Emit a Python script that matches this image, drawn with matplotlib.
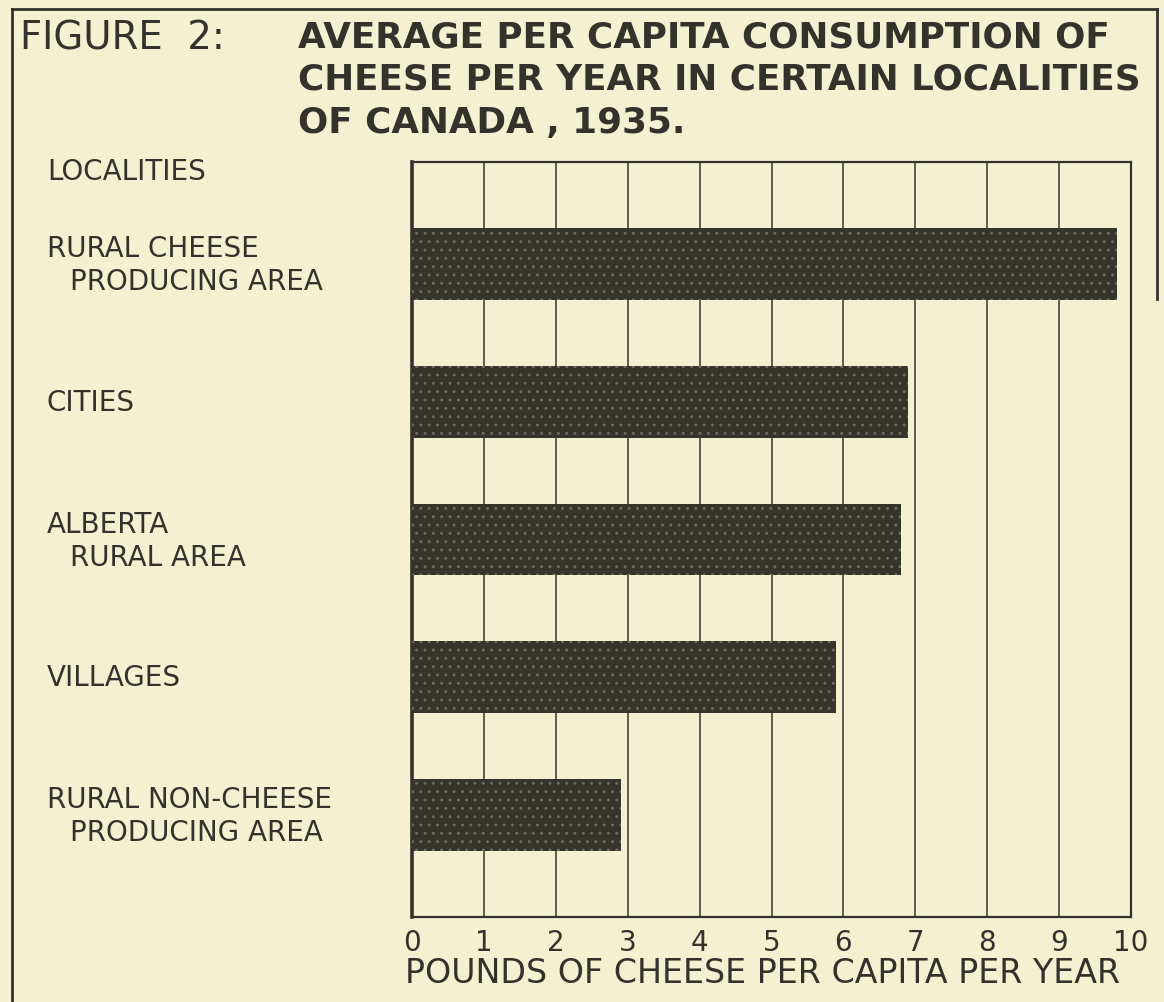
import matplotlib
matplotlib.use("Agg")
import matplotlib.pyplot as plt
from matplotlib.transforms import blended_transform_factory
from matplotlib.lines import Line2D

# ---------------- data ----------------
categories = [
    "RURAL CHEESE\nPRODUCING AREA",
    "CITIES",
    "ALBERTA\nRURAL AREA",
    "VILLAGES",
    "RURAL NON-CHEESE\nPRODUCING AREA",
]
values = [9.8, 6.9, 6.8, 5.9, 2.9]
x_ticks = [0, 1, 2, 3, 4, 5, 6, 7, 8, 9, 10]
x_tick_labels = ["0", "1", "2", "3", "4", "5", "6", "7", "8", "9", "10"]
figure_tag = "FIGURE  2:"
title_lines = [
    "AVERAGE PER CAPITA CONSUMPTION OF",
    "CHEESE PER YEAR IN CERTAIN LOCALITIES",
    "OF CANADA , 1935.",
]
y_header = "LOCALITIES"
x_label = "POUNDS OF CHEESE PER CAPITA PER YEAR"

# ---------------- style ----------------
BG = "#f4f1d3"
INK = "#34332b"
BAR = "#36352c"
W, H = 1164, 1003

plt.rcParams["font.family"] = ["DejaVu Sans"]

fig = plt.figure(figsize=(W / 100, H / 100), dpi=100, facecolor=BG)
ax = fig.add_axes([412 / W, 1 - 918 / H, (1131 - 412) / W, (918 - 163) / H])
ax.set_facecolor(BG)

ypos = list(range(len(categories)))
ax.barh(ypos, values, height=0.52, color=BAR, edgecolor="#6c6b5e",
        hatch="..", linewidth=0, zorder=3)

ax.set_xlim(0, 10)
ax.set_ylim(len(categories) - 0.26, -0.74)
ax.set_xticks(x_ticks)
ax.set_xticklabels(x_tick_labels)
ax.set_yticks([])
ax.tick_params(axis="x", length=0, pad=8, labelsize=20, labelcolor=INK)
ax.grid(axis="x", color=INK, linewidth=1.1)
ax.set_axisbelow(True)
for s in ax.spines.values():
    s.set_color(INK)
    s.set_linewidth(1.6)
ax.spines["left"].set_linewidth(2.6)

renderer = fig.canvas.get_renderer()


def fit(t, target_px):
    w = t.get_window_extent(renderer).width
    t.set_fontsize(t.get_fontsize() * target_px / w)
    return t


LAB_FS = 20
# category labels (left side)
tr = blended_transform_factory(fig.transFigure, ax.transData)
for i, lab in enumerate(categories):
    parts = lab.split("\n")
    if len(parts) == 1:
        ax.text(47 / W, i, parts[0], transform=tr, ha="left", va="center",
                fontsize=LAB_FS, color=INK)
    else:
        ax.text(47 / W, i - 0.115, parts[0], transform=tr, ha="left",
                va="center", fontsize=LAB_FS, color=INK)
        ax.text(70 / W, i + 0.125, parts[1], transform=tr, ha="left",
                va="center", fontsize=LAB_FS, color=INK)

fig.text(47 / W, 1 - 172 / H, y_header, ha="left", va="center",
         fontsize=LAB_FS, color=INK)

# x label
xl = fig.text((405 + 1120) / 2 / W, 1 - 974 / H, x_label, ha="center",
              va="center", fontsize=20, color=INK)
fit(xl, 715)

# title
t2 = fig.text(298 / W, 1 - 80 / H, title_lines[1], ha="left", va="center",
              fontsize=20, color=INK, fontweight="bold")
fit(t2, 842)
tsize = t2.get_fontsize()
fig.text(298 / W, 1 - 38 / H, title_lines[0], ha="left", va="center",
         fontsize=tsize, color=INK, fontweight="bold")
fig.text(298 / W, 1 - 123 / H, title_lines[2], ha="left", va="center",
         fontsize=tsize, color=INK, fontweight="bold")
fig.text(20 / W, 1 - 38 / H, figure_tag, ha="left", va="center",
         fontsize=tsize * 1.08, color=INK)

# outer border of the printed figure
for xs, ys in [([12, 12], [10, H]), ([12, 1157], [10, 10]), ([1157, 1157], [10, 300])]:
    fig.add_artist(Line2D([x / W for x in xs], [1 - y / H for y in ys],
                          transform=fig.transFigure, color=INK, linewidth=2.0))

fig.savefig("out.png", dpi=100, facecolor=BG)
